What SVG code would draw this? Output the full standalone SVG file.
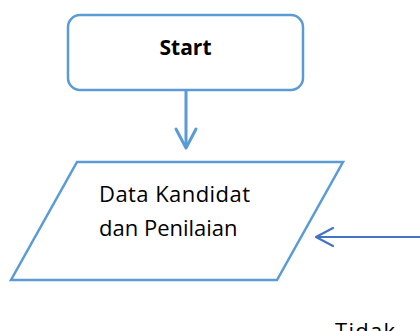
<svg xmlns="http://www.w3.org/2000/svg" width="420" height="331" viewBox="0 0 420 331">
<style>
.shape{fill:#fff;stroke:#5B9BD5;stroke-width:2.5}
.txt{font-family:"Open Sans","Liberation Sans",sans-serif;fill:#000}
.conn{fill:none;stroke-linecap:round;stroke-linejoin:round}
</style>
<rect width="420" height="331" fill="#fff"/>
<g id="connectors">
<g class="conn" stroke="#5B9BD5" stroke-width="3">
<line x1="186" y1="90" x2="186" y2="147"/>
<polyline points="176,129 186,148 196,129"/>
</g>
<g class="conn" stroke="#4472C4" stroke-width="2.2">
<line x1="317" y1="237" x2="420" y2="237"/>
<polyline points="333,228 316,237 333,246"/>
</g>
</g>
<g id="start">
<rect class="shape" x="68" y="15" width="235" height="75" rx="12" ry="12"/>
<text class="txt" x="185.5" y="55" font-size="21" font-weight="bold" text-anchor="middle">Start</text>
</g>
<g id="data">
<polygon class="shape" points="77,162 343,162 277,280 11,280"/>
<text class="txt" font-size="22"><tspan x="99" y="202" textLength="151">Data Kandidat</tspan><tspan x="99" y="236">dan Penilaian</tspan></text>
</g>
<g id="tidak">
<text class="txt" x="335" y="339" font-size="22" textLength="60">Tidak</text>
</g>
</svg>
